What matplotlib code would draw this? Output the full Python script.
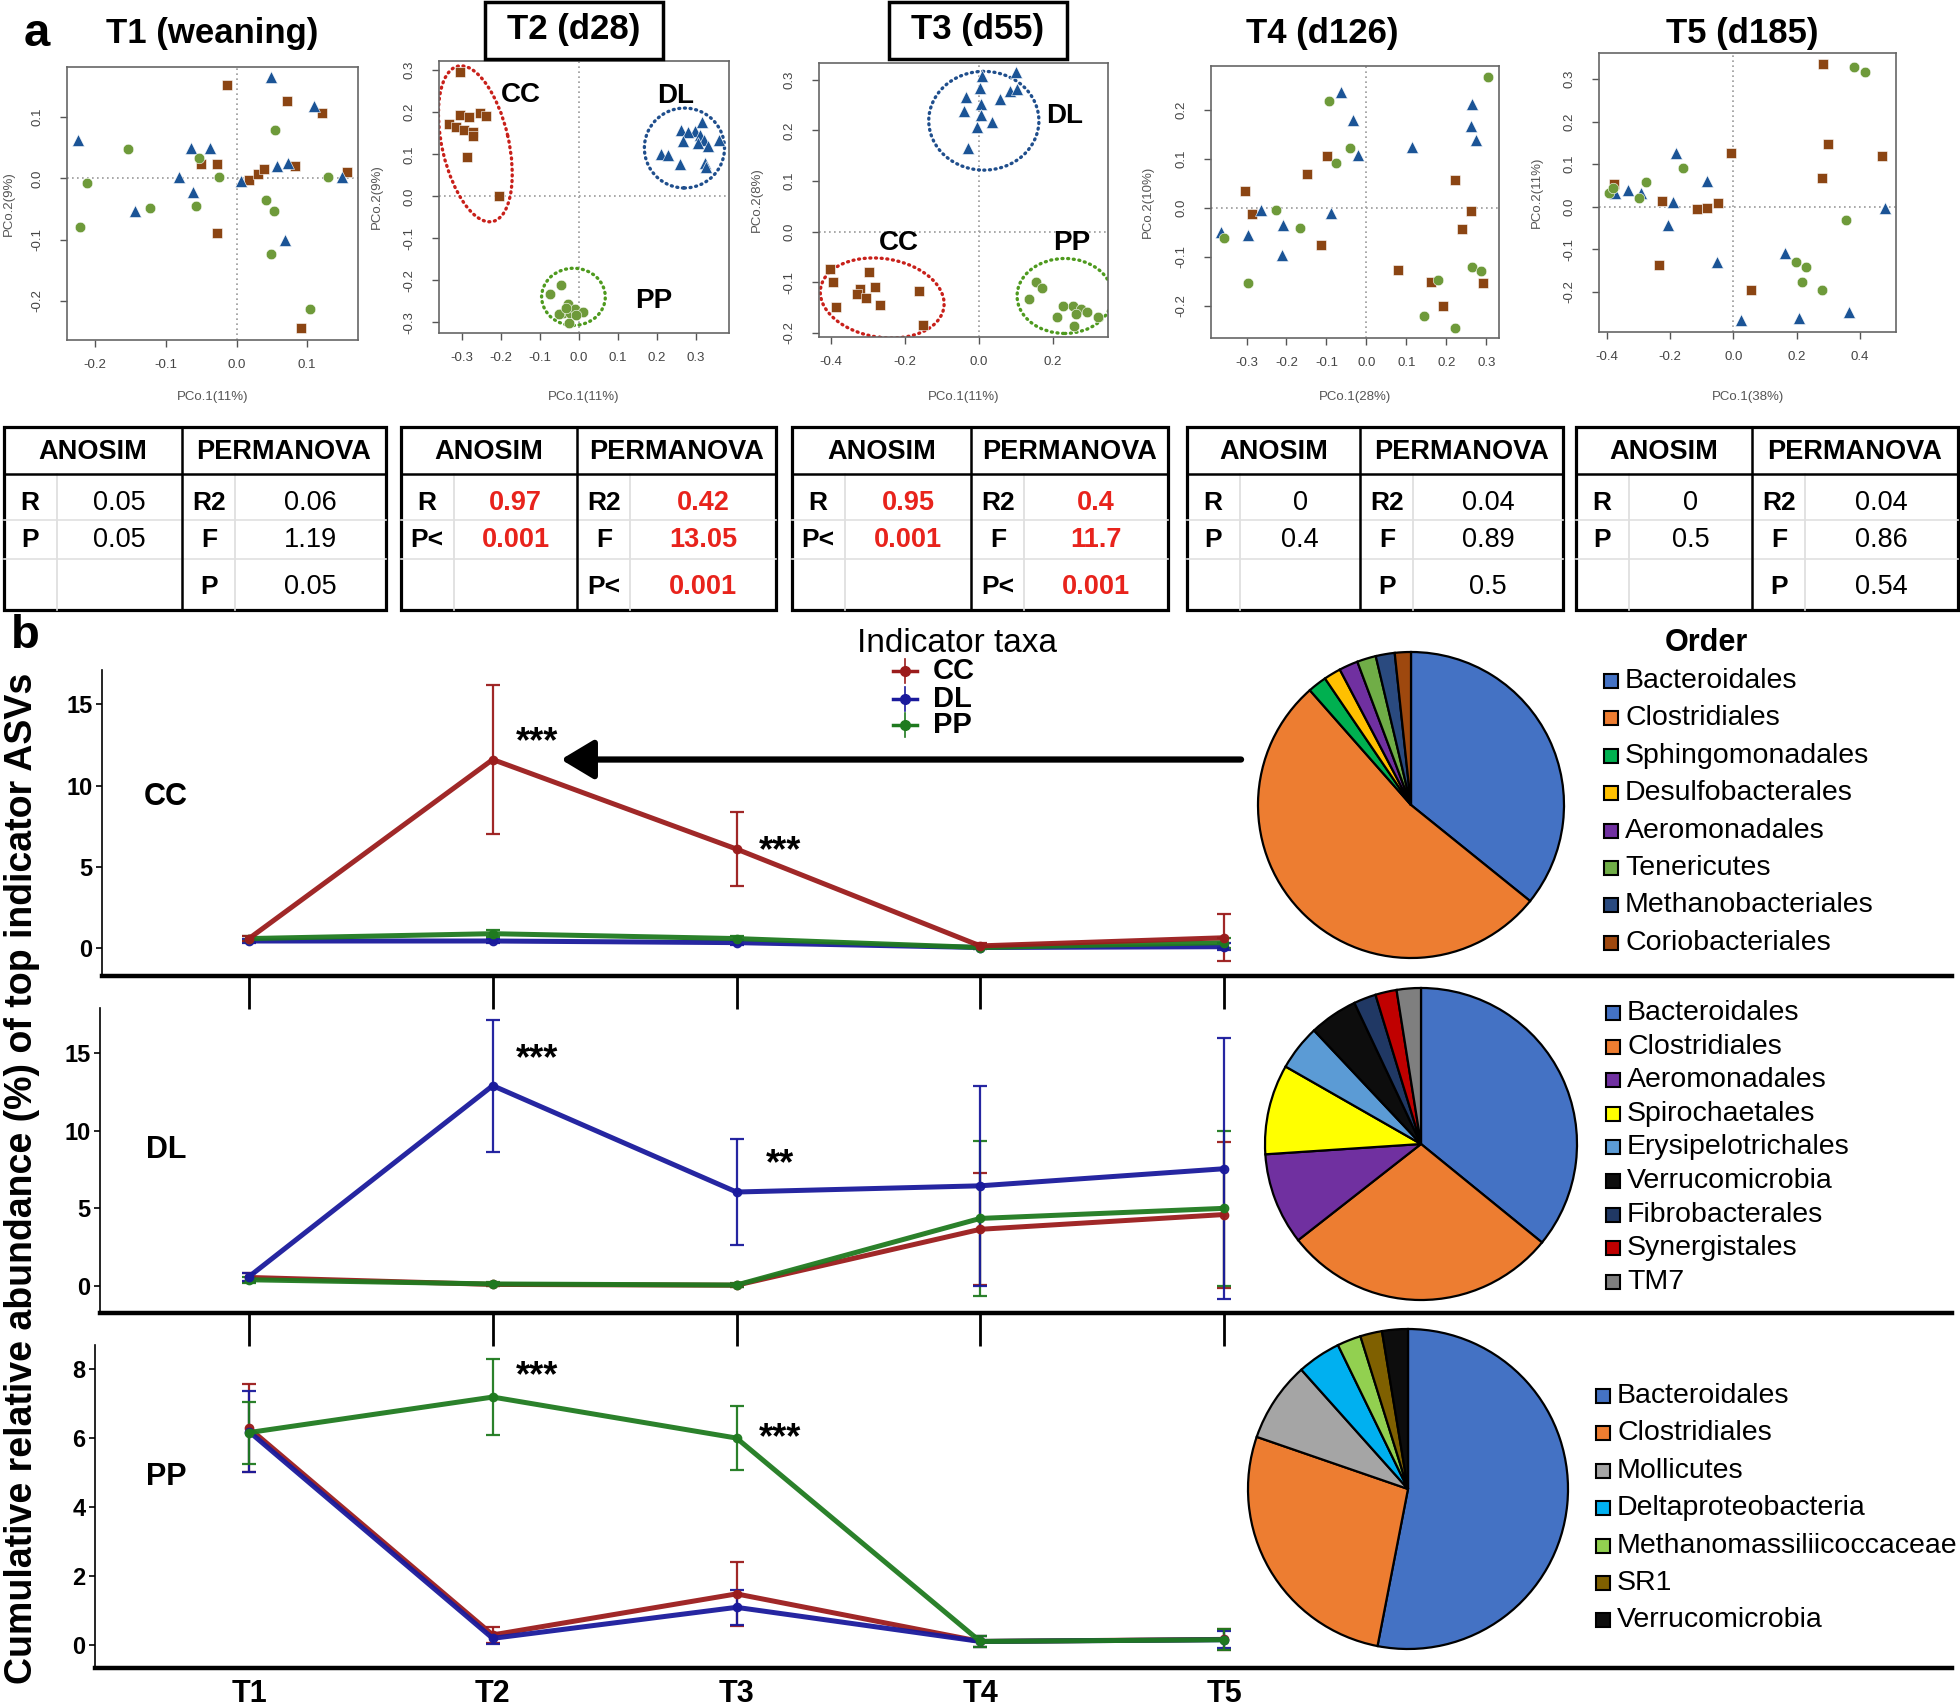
import numpy as np
import matplotlib
matplotlib.use('Agg')
import matplotlib.pyplot as plt
from matplotlib.patches import Ellipse, Rectangle
from matplotlib.lines import Line2D

plt.rcParams['font.family'] = ['Liberation Sans', 'DejaVu Sans']

# ---------------- PCoA scores (panel a) ----------------
T1_CC_x = [-0.013, 0.071, 0.121, -0.050, -0.027, 0.017, 0.031, 0.039, 0.083, 0.157, -0.027, 0.092]
T1_CC_y = [0.153, 0.126, 0.107, 0.023, 0.024, -0.002, 0.008, 0.016, 0.021, 0.011, -0.089, -0.245]
T1_DL_x = [-0.225, 0.049, 0.109, -0.065, -0.038, -0.082, 0.006, -0.061, -0.144, 0.058, 0.073, 0.150, 0.069]
T1_DL_y = [0.062, 0.165, 0.118, 0.049, 0.049, 0.002, -0.004, -0.022, -0.053, 0.020, 0.025, 0.002, -0.101]
T1_PP_x = [-0.154, -0.211, -0.222, -0.123, -0.053, -0.025, -0.057, 0.055, 0.042, 0.053, 0.049, 0.129, 0.104]
T1_PP_y = [0.048, -0.007, -0.080, -0.049, 0.033, 0.002, -0.045, 0.079, -0.036, -0.053, -0.123, 0.003, -0.214]

T2_CC_x = [-0.304, -0.305, -0.282, -0.254, -0.239, -0.333, -0.314, -0.293, -0.271, -0.270, -0.286, -0.205]
T2_CC_y = [0.297, 0.194, 0.188, 0.198, 0.192, 0.172, 0.166, 0.157, 0.152, 0.143, 0.093, 0.000]
T2_DL_x = [0.262, 0.316, 0.296, 0.279, 0.309, 0.320, 0.266, 0.305, 0.330, 0.358, 0.211, 0.228, 0.259, 0.322, 0.324]
T2_DL_y = [0.158, 0.176, 0.156, 0.152, 0.146, 0.135, 0.131, 0.128, 0.120, 0.135, 0.101, 0.099, 0.077, 0.079, 0.071]
T2_PP_x = [-0.073, -0.047, -0.028, -0.041, -0.022, -0.011, 0.010, -0.026, -0.051, -0.007, -0.032]
T2_PP_y = [-0.232, -0.210, -0.255, -0.277, -0.277, -0.269, -0.275, -0.301, -0.279, -0.283, -0.265]

T3_CC_x = [-0.404, -0.395, -0.298, -0.282, -0.323, -0.329, -0.307, -0.269, -0.386, -0.163, -0.152]
T3_CC_y = [-0.073, -0.099, -0.079, -0.109, -0.114, -0.123, -0.131, -0.144, -0.148, -0.117, -0.185]
T3_DL_x = [0.009, 0.099, 0.002, 0.083, 0.104, -0.034, 0.056, -0.042, 0.006, 0.005, 0.036, -0.005, -0.030]
T3_DL_y = [0.307, 0.315, 0.284, 0.277, 0.282, 0.265, 0.261, 0.239, 0.253, 0.231, 0.217, 0.206, 0.166]
T3_PP_x = [0.155, 0.171, 0.135, 0.227, 0.254, 0.277, 0.263, 0.292, 0.212, 0.322, 0.257]
T3_PP_y = [-0.099, -0.112, -0.132, -0.147, -0.147, -0.152, -0.162, -0.158, -0.168, -0.168, -0.187]

T4_CC_x = [-0.304, -0.286, -0.148, -0.098, -0.114, 0.078, 0.163, 0.192, 0.223, 0.263, 0.240, 0.292]
T4_CC_y = [0.034, -0.012, 0.070, 0.106, -0.076, -0.126, -0.151, -0.201, 0.057, -0.007, -0.044, -0.153]
T4_DL_x = [-0.064, -0.033, -0.021, -0.263, -0.364, -0.296, -0.208, -0.211, -0.089, 0.115, 0.265, 0.261, 0.275]
T4_DL_y = [0.237, 0.179, 0.108, -0.005, -0.049, -0.056, -0.035, -0.097, -0.010, 0.125, 0.213, 0.167, 0.138]
T4_PP_x = [-0.094, -0.042, -0.075, -0.227, -0.167, -0.357, -0.296, 0.304, 0.264, 0.286, 0.179, 0.143, 0.223]
T4_PP_y = [0.218, 0.123, 0.091, -0.005, -0.042, -0.061, -0.153, 0.267, -0.121, -0.129, -0.147, -0.221, -0.245]

T5_CC_x = [0.284, 0.298, 0.468, 0.279, -0.007, -0.376, -0.226, -0.116, -0.084, -0.049, -0.234, 0.056]
T5_CC_y = [0.335, 0.147, 0.119, 0.067, 0.127, 0.053, 0.013, -0.005, -0.002, 0.008, -0.136, -0.196]
T5_DL_x = [-0.182, -0.082, -0.334, -0.292, -0.372, -0.192, -0.207, -0.051, 0.024, 0.163, 0.207, 0.366, 0.477]
T5_DL_y = [0.127, 0.060, 0.039, 0.033, 0.033, 0.012, -0.043, -0.130, -0.267, -0.108, -0.261, -0.247, -0.002]
T5_PP_x = [0.382, 0.414, -0.158, -0.277, -0.393, -0.381, -0.298, 0.356, 0.197, 0.229, 0.215, 0.281]
T5_PP_y = [0.327, 0.316, 0.092, 0.057, 0.033, 0.043, 0.021, -0.031, -0.130, -0.141, -0.177, -0.195]

pcoa_titles = ['T1 (weaning)', 'T2 (d28)', 'T3 (d55)', 'T4 (d126)', 'T5 (d185)']
pcoa_xlabels = ['PCo.1(11%)', 'PCo.1(11%)', 'PCo.1(11%)', 'PCo.1(28%)', 'PCo.1(38%)']
pcoa_ylabels = ['PCo.2(9%)', 'PCo.2(9%)', 'PCo.2(8%)', 'PCo.2(10%)', 'PCo.2(11%)']

# ---------------- ANOSIM / PERMANOVA tables ----------------
anosim_R = ['0.05', '0.97', '0.95', '0', '0']
anosim_P = ['0.05', '0.001', '0.001', '0.4', '0.5']
anosim_P_label = ['P', 'P<', 'P<', 'P', 'P']
perm_R2 = ['0.06', '0.42', '0.4', '0.04', '0.04']
perm_F = ['1.19', '13.05', '11.7', '0.89', '0.86']
perm_P = ['0.05', '0.001', '0.001', '0.5', '0.54']
perm_P_label = ['P', 'P<', 'P<', 'P', 'P']
significant = [False, True, True, False, False]

# ---------------- indicator taxa (panel b) ----------------
times = ['T1', 'T2', 'T3', 'T4', 'T5']
# panel "CC" indicators
ccp_CC_mean = [0.6, 11.6, 6.1, 0.15, 0.65]
ccp_CC_err = [0.15, 4.6, 2.25, 0.15, 1.45]
ccp_DL_mean = [0.45, 0.45, 0.35, 0.05, 0.1]
ccp_DL_err = [0.15, 0.15, 0.15, 0.1, 0.2]
ccp_PP_mean = [0.6, 0.9, 0.6, 0.05, 0.35]
ccp_PP_err = [0.15, 0.2, 0.15, 0.1, 0.3]
# panel "DL" indicators
dlp_CC_mean = [0.55, 0.1, 0.05, 3.65, 4.6]
dlp_CC_err = [0.3, 0.1, 0.1, 3.6, 4.7]
dlp_DL_mean = [0.6, 12.9, 6.05, 6.45, 7.55]
dlp_DL_err = [0.25, 4.25, 3.4, 6.45, 8.4]
dlp_PP_mean = [0.4, 0.13, 0.06, 4.35, 5.0]
dlp_PP_err = [0.2, 0.1, 0.1, 5.0, 5.0]
# panel "PP" indicators
ppp_CC_mean = [6.29, 0.29, 1.48, 0.1, 0.16]
ppp_CC_err = [1.28, 0.24, 0.92, 0.15, 0.3]
ppp_DL_mean = [6.19, 0.19, 1.09, 0.1, 0.15]
ppp_DL_err = [1.18, 0.15, 0.5, 0.15, 0.25]
ppp_PP_mean = [6.16, 7.19, 6.0, 0.1, 0.15]
ppp_PP_err = [0.9, 1.1, 0.92, 0.15, 0.3]

# significance marks: (time, label, height in panel units)
ccp_stars = [('T2', '***', 13.3), ('T3', '***', 6.6)]
dlp_stars = [('T2', '***', 15.3), ('T3', '**', 8.5)]
ppp_stars = [('T2', '***', 8.1), ('T3', '***', 6.3)]

# ---------------- taxonomic composition (pies) ----------------
cc_orders = ['Bacteroidales', 'Clostridiales', 'Sphingomonadales', 'Desulfobacterales',
             'Aeromonadales', 'Tenericutes', 'Methanobacteriales', 'Coriobacteriales']
cc_share = [35.8, 52.7, 2.0, 1.8, 2.0, 2.0, 2.0, 1.7]
dl_orders = ['Bacteroidales', 'Clostridiales', 'Aeromonadales', 'Spirochaetales',
             'Erysipelotrichales', 'Verrucomicrobia', 'Fibrobacterales', 'Synergistales', 'TM7']
dl_share = [35.8, 28.5, 9.5, 9.3, 4.7, 5.0, 2.3, 2.2, 2.5]
pp_orders = ['Bacteroidales', 'Clostridiales', 'Mollicutes', 'Deltaproteobacteria',
             'Methanomassiliicoccaceae', 'SR1', 'Verrucomicrobia']
pp_share = [53.0, 27.2, 8.1, 4.4, 2.4, 2.2, 2.6]

order_colors = {
    'Bacteroidales': '#4472C4', 'Clostridiales': '#ED7D31', 'Sphingomonadales': '#00B050',
    'Desulfobacterales': '#FFC000', 'Aeromonadales': '#7030A0', 'Tenericutes': '#70AD47',
    'Methanobacteriales': '#2A4A7F', 'Coriobacteriales': '#9E480E', 'Spirochaetales': '#FFFF00',
    'Erysipelotrichales': '#5B9BD5', 'Verrucomicrobia': '#0D0D0D', 'Fibrobacterales': '#203864',
    'Synergistales': '#C00000', 'TM7': '#7F7F7F', 'Mollicutes': '#A5A5A5',
    'Deltaproteobacteria': '#00B0F0', 'Methanomassiliicoccaceae': '#92D050', 'SR1': '#7F6000',
}

# ================= drawing =================
W, H = 1960, 1707
fig = plt.figure(figsize=(W / 100, H / 100), dpi=100)


def rect(x0, y0, x1, y1):
    return [x0 / W, 1 - y1 / H, (x1 - x0) / W, (y1 - y0) / H]


ov = fig.add_axes([0, 0, 1, 1])
ov.set_xlim(0, W)
ov.set_ylim(H, 0)
ov.axis('off')
ov.set_zorder(20)
ov.patch.set_alpha(0)

grp_style = {
    'CC': dict(marker='s', color='#8B4513', ms=6.5),
    'DL': dict(marker='^', color='#1B5496', ms=8.5),
    'PP': dict(marker='o', color='#6E9A3A', ms=7.6),
}
ell_color = {'CC': '#C8201A', 'DL': '#1F4E8C', 'PP': '#4E9A1E'}

pcoa_data = [
    {'CC': (T1_CC_x, T1_CC_y), 'DL': (T1_DL_x, T1_DL_y), 'PP': (T1_PP_x, T1_PP_y)},
    {'CC': (T2_CC_x, T2_CC_y), 'DL': (T2_DL_x, T2_DL_y), 'PP': (T2_PP_x, T2_PP_y)},
    {'CC': (T3_CC_x, T3_CC_y), 'DL': (T3_DL_x, T3_DL_y), 'PP': (T3_PP_x, T3_PP_y)},
    {'CC': (T4_CC_x, T4_CC_y), 'DL': (T4_DL_x, T4_DL_y), 'PP': (T4_PP_x, T4_PP_y)},
    {'CC': (T5_CC_x, T5_CC_y), 'DL': (T5_DL_x, T5_DL_y), 'PP': (T5_PP_x, T5_PP_y)},
]
pcoa_rects = [(67, 67, 358, 340), (439, 61, 729, 333), (819, 63, 1108, 337),
              (1211, 66, 1499, 338), (1599, 53, 1896, 332)]
pcoa_xlim = [(-0.24, 0.172), (-0.358, 0.384), (-0.433, 0.349), (-0.389, 0.332), (-0.424, 0.513)]
pcoa_ylim = [(-0.264, 0.182), (-0.325, 0.322), (-0.208, 0.333), (-0.266, 0.290), (-0.294, 0.361)]
pcoa_xt = [np.arange(-0.2, 0.11, 0.1), np.arange(-0.3, 0.31, 0.1), np.arange(-0.4, 0.21, 0.2),
           np.arange(-0.3, 0.31, 0.1), np.arange(-0.4, 0.41, 0.2)]
pcoa_yt = [np.arange(-0.2, 0.11, 0.1), np.arange(-0.3, 0.31, 0.1), np.arange(-0.2, 0.31, 0.1),
           np.arange(-0.2, 0.21, 0.1), np.arange(-0.2, 0.31, 0.1)]
ylabel_x = [9, 377, 757, 1148, 1537]
title_xy = [(212, 33), (574, 30), (978, 30), (1322, 33), (1742, 33)]

# cluster annotations (ellipses & group labels) for T2 and T3
ellipses = {
    1: [('CC', (-0.265, 0.125), 0.38, 0.17, 104), ('DL', (0.270, 0.115), 0.205, 0.19, 0),
        ('PP', (-0.014, -0.239), 0.163, 0.136, 0)],
    2: [('DL', (0.013, 0.219), 0.298, 0.195, 0), ('CC', (-0.262, -0.131), 0.336, 0.156, -5),
        ('PP', (0.232, -0.127), 0.258, 0.148, 0)],
}
group_labels = {
    1: [('CC', -0.148, 0.241), ('DL', 0.247, 0.238), ('PP', 0.191, -0.248)],
    2: [('DL', 0.232, 0.228), ('CC', -0.217, -0.022), ('PP', 0.250, -0.023)],
}


def fmt(v):
    s = f'{v:.1f}'
    return '0.0' if s == '-0.0' else s


for i in range(5):
    r = pcoa_rects[i]
    ax = fig.add_axes(rect(*r))
    ax.set_xlim(pcoa_xlim[i])
    ax.set_ylim(pcoa_ylim[i])
    ax.axhline(0, color='#9a9a9a', ls=(0, (1, 2)), lw=1.2, zorder=0)
    ax.axvline(0, color='#9a9a9a', ls=(0, (1, 2)), lw=1.2, zorder=0)
    for g in ['CC', 'DL', 'PP']:
        xs, ys = pcoa_data[i][g]
        st = grp_style[g]
        ax.plot(xs, ys, ls='none', marker=st['marker'], color=st['color'], ms=st['ms'],
                mec='white', mew=0.4)
    if i in ellipses:
        for g, c, w, h, a in ellipses[i]:
            e = Ellipse(c, w, h, angle=a, fill=False, ec=ell_color[g], lw=2.4,
                        ls=(0, (0.3, 1.4)), capstyle='round')
            ax.add_patch(e)
        for g, x, y in group_labels[i]:
            ax.text(x, y, g, fontsize=20, fontweight='bold', ha='center', va='center')
    xt = pcoa_xt[i]
    yt = pcoa_yt[i]
    ax.set_xticks(xt)
    ax.set_xticklabels([fmt(v) for v in xt])
    ax.set_yticks(yt)
    ax.set_yticklabels([fmt(v) for v in yt], rotation=90, va='center')
    ax.tick_params(axis='both', length=5, width=1, color='#555555', labelsize=9.5,
                   labelcolor='#444444')
    ax.tick_params(axis='x', pad=9)
    ax.tick_params(axis='y', pad=12)
    for s in ax.spines.values():
        s.set_color('#666666')
        s.set_linewidth(1.2)
    cx = (r[0] + r[2]) / 2
    cy = (r[1] + r[3]) / 2
    ov.text(cx, 397, pcoa_xlabels[i], ha='center', va='center', fontsize=9.5, color='#555555')
    ov.text(ylabel_x[i], cy, pcoa_ylabels[i], ha='center', va='center', fontsize=9.5,
            color='#555555', rotation=90)
    tx, ty = title_xy[i]
    ov.text(tx, ty, pcoa_titles[i], ha='center', va='center', fontsize=25, fontweight='bold')

# boxes around T2 and T3 titles
for (x0, x1) in [(485, 663), (889, 1067)]:
    ov.add_patch(Rectangle((x0, 2), x1 - x0, 57, fill=False, ec='black', lw=2.5))

ov.text(37, 34, 'a', fontsize=34, fontweight='bold', ha='center', va='center')
ov.text(25, 636, 'b', fontsize=34, fontweight='bold', ha='center', va='center')

# ---------------- tables ----------------
tables_x = [(4, 182, 386), (401, 577, 776), (792, 971, 1168), (1187, 1360, 1563), (1576, 1752, 1958)]
ty0, tyh, ty1 = 427, 474, 610
for i, (x0, xd, x1) in enumerate(tables_x):
    for xx in (x0 + 53, xd + 53):
        ov.plot([xx, xx], [tyh, ty1], color='#dddddd', lw=1.2)
    for yy in (520, 559):
        ov.plot([x0, x1], [yy, yy], color='#e0e0e0', lw=1.2)
    ov.add_patch(Rectangle((x0, ty0), x1 - x0, ty1 - ty0, fill=False, ec='black', lw=2.3))
    ov.plot([xd, xd], [ty0, ty1], color='black', lw=1.8)
    ov.plot([x0, x1], [tyh, tyh], color='black', lw=1.8)
    ov.text((x0 + xd) / 2, 452, 'ANOSIM', ha='center', va='center', fontsize=19.5, fontweight='bold')
    ov.text((xd + x1) / 2, 452, 'PERMANOVA', ha='center', va='center', fontsize=19.5,
            fontweight='bold')
    vcol = '#E8231C' if significant[i] else 'black'
    vw = 'bold' if significant[i] else 'normal'
    la = x0 + 26
    va_ = (x0 + 53 + xd) / 2
    lp = xd + 27
    vp = (xd + 53 + x1) / 2
    rows_y = [503, 540, 587]
    ov.text(la, rows_y[0], 'R', ha='center', va='center', fontsize=19, fontweight='bold')
    ov.text(va_, rows_y[0], anosim_R[i], ha='center', va='center', fontsize=19.5, color=vcol,
            fontweight=vw)
    ov.text(la, rows_y[1], anosim_P_label[i], ha='center', va='center', fontsize=19,
            fontweight='bold')
    ov.text(va_, rows_y[1], anosim_P[i], ha='center', va='center', fontsize=19.5, color=vcol,
            fontweight=vw)
    ov.text(lp, rows_y[0], 'R2', ha='center', va='center', fontsize=19, fontweight='bold')
    ov.text(vp, rows_y[0], perm_R2[i], ha='center', va='center', fontsize=19.5, color=vcol,
            fontweight=vw)
    ov.text(lp, rows_y[1], 'F', ha='center', va='center', fontsize=19, fontweight='bold')
    ov.text(vp, rows_y[1], perm_F[i], ha='center', va='center', fontsize=19.5, color=vcol,
            fontweight=vw)
    ov.text(lp, rows_y[2], perm_P_label[i], ha='center', va='center', fontsize=19,
            fontweight='bold')
    ov.text(vp, rows_y[2], perm_P[i], ha='center', va='center', fontsize=19.5, color=vcol,
            fontweight=vw)

# ---------------- line panels ----------------
line_colors = {'CC': '#9B1C1C', 'DL': '#1A1A9C', 'PP': '#1F7A1F'}
xpos = np.arange(1, len(times) + 1)
px_per_unit = (1224 - 249) / 4.0


def xlim_for(left_px, right_px=1952):
    return (1 - (249 - left_px) / px_per_unit, 5 + (right_px - 1224) / px_per_unit)


panels = [
    dict(name='CC', r=(102, 670, 1952, 976), ylim=(-1.7, 17.1), yt=[0, 5, 10, 15],
         series={'CC': (ccp_CC_mean, ccp_CC_err), 'DL': (ccp_DL_mean, ccp_DL_err),
                 'PP': (ccp_PP_mean, ccp_PP_err)},
         order=['DL', 'PP', 'CC'], stars=ccp_stars, label_y=797),
    dict(name='DL', r=(100, 1008, 1952, 1313), ylim=(-1.74, 17.9), yt=[0, 5, 10, 15],
         series={'CC': (dlp_CC_mean, dlp_CC_err), 'DL': (dlp_DL_mean, dlp_DL_err),
                 'PP': (dlp_PP_mean, dlp_PP_err)},
         order=['CC', 'PP', 'DL'], stars=dlp_stars, label_y=1150),
    dict(name='PP', r=(95, 1345, 1952, 1668), ylim=(-0.67, 8.7), yt=[0, 2, 4, 6, 8],
         series={'CC': (ppp_CC_mean, ppp_CC_err), 'DL': (ppp_DL_mean, ppp_DL_err),
                 'PP': (ppp_PP_mean, ppp_PP_err)},
         order=['CC', 'DL', 'PP'], stars=ppp_stars, label_y=1477),
]

STAR_FS = 26
line_axes = []
for k, p in enumerate(panels):
    ax = fig.add_axes(rect(*p['r']))
    ax.set_xlim(*xlim_for(p['r'][0]))
    ax.set_ylim(*p['ylim'])
    for g in p['order']:
        m, e = p['series'][g]
        ax.errorbar(xpos, m, yerr=e, color=line_colors[g], lw=3.6, marker='o', ms=6,
                    capsize=5, elinewidth=1.6, capthick=1.6, alpha=0.95)
    for t, s, yv in p['stars']:
        j = times.index(t)
        ax.annotate(s, xy=(j + 1 + 0.18, yv), xytext=(0, -0.57 * STAR_FS),
                    textcoords='offset points', fontsize=STAR_FS, fontweight='bold',
                    ha='center', va='baseline')
    ax.set_yticks(p['yt'])
    ax.set_yticklabels([str(v) for v in p['yt']], fontsize=17, fontweight='bold')
    ax.tick_params(axis='y', length=4, width=1.2, pad=3)
    ax.set_xticks(xpos)
    if k < 2:
        ax.set_xticklabels([])
        ax.tick_params(axis='x', direction='out', length=24, width=2)
    else:
        ax.set_xticklabels(times, fontsize=22, fontweight='bold')
        ax.tick_params(axis='x', length=0, pad=8)
    for s in ['top', 'right']:
        ax.spines[s].set_visible(False)
    ax.spines['bottom'].set_linewidth(3.2)
    ax.spines['left'].set_linewidth(1.2)
    ax.patch.set_alpha(0)
    ov.text(166, p['label_y'], p['name'], fontsize=22, fontweight='bold', ha='center',
            va='center')
    line_axes.append(ax)

# arrow from CC pie to T2 peak in CC panel
axc = line_axes[0]
axc.annotate('', xy=(2.28, ccp_CC_mean[1]), xytext=(5.07, ccp_CC_mean[1]),
             arrowprops=dict(arrowstyle='-|>,head_length=0.5,head_width=0.3', lw=4.5,
                             color='black', mutation_scale=40, shrinkA=0, shrinkB=0))

# legend "Indicator taxa"
ov.text(957, 643, 'Indicator taxa', fontsize=24, ha='center', va='center')
for j, g in enumerate(['CC', 'DL', 'PP']):
    yy = [671, 699, 725][j]
    c = line_colors[g]
    ov.add_line(Line2D([893, 917], [yy, yy], color=c, lw=2.5))
    ov.add_line(Line2D([905, 905], [yy - 12, yy + 12], color=c, lw=1.2))
    ov.add_line(Line2D([905], [yy], color=c, marker='o', ms=7))
    ov.text(933, yy, g, fontsize=21, fontweight='bold', ha='left', va='center')

# ---------------- pies ----------------
pies = [
    (cc_orders, cc_share, (1411, 805), 153, 1611, [681 + 37.4 * j for j in range(8)]),
    (dl_orders, dl_share, (1421, 1144), 156, 1613, [1013 + 33.6 * j for j in range(9)]),
    (pp_orders, pp_share, (1408, 1489), 160, 1603, [1396 + 37.4 * j for j in range(7)]),
]
for orders, share, (cx, cy), rad, lx, lys in pies:
    pax = fig.add_axes(rect(cx - rad * 1.02, cy - rad * 1.02, cx + rad * 1.02, cy + rad * 1.02))
    pax.pie(share, colors=[order_colors[o] for o in orders], startangle=90, counterclock=False,
            wedgeprops=dict(edgecolor='black', linewidth=1.6))
    pax.set_xlim(-1.02, 1.02)
    pax.set_ylim(-1.02, 1.02)
    pax.set_zorder(10)
    for o, yy in zip(orders, lys):
        ov.add_patch(Rectangle((lx - 7, yy - 7), 14, 14, fc=order_colors[o], ec='black', lw=1.5))
        ov.text(lx + 14, yy, o, fontsize=20.5, ha='left', va='center')

ov.text(1706, 643, 'Order', fontsize=22, fontweight='bold', ha='center', va='center')

ylab = 'Cumulative relative abundance (%) of top indicator ASVs'
ov.text(22, 1178, ylab, rotation=90, fontsize=27, fontweight='bold', ha='center', va='center')

fig.savefig('out.png', dpi=100)
